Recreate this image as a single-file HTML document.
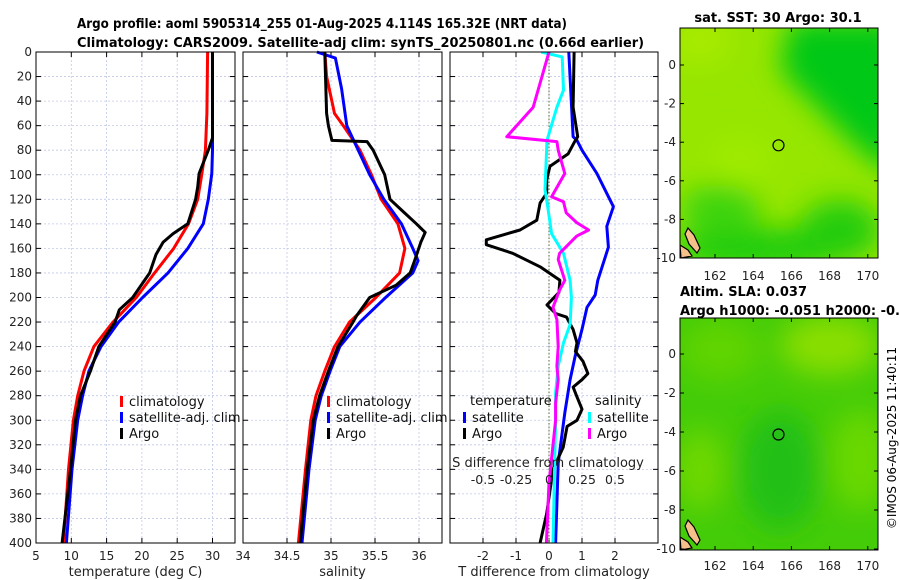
<!DOCTYPE html>
<html><head><meta charset="utf-8"><style>
html,body{margin:0;padding:0;background:#fff;}
svg{display:block;font-family:"DejaVu Sans","Liberation Sans",sans-serif;}
</style></head><body>
<svg id="chart" width="900" height="580" viewBox="0 0 900 580" xmlns="http://www.w3.org/2000/svg">
<defs>
<filter id="blur1" x="-50%" y="-50%" width="200%" height="200%"><feGaussianBlur stdDeviation="14"/></filter>
<clipPath id="clipMap1"><rect x="680" y="28" width="198" height="230"/></clipPath>
<clipPath id="clipMap2"><rect x="680" y="318" width="198" height="232"/></clipPath>
</defs>
<text x="77" y="28" font-weight="bold" font-size="13.5" textLength="490" lengthAdjust="spacingAndGlyphs">Argo profile: aoml 5905314_255 01-Aug-2025 4.114S 165.32E (NRT data)</text>
<text x="77" y="47" font-weight="bold" font-size="13.5" textLength="567" lengthAdjust="spacingAndGlyphs">Climatology: CARS2009. Satellite-adj clim: synTS_20250801.nc (0.66d earlier)</text>

<!-- Map 1 -->
<g>
<text x="778" y="22" font-weight="bold" font-size="13" text-anchor="middle">sat. SST: 30 Argo: 30.1</text>
<g clip-path="url(#clipMap1)">
<rect x="680" y="28" width="198" height="230" fill="#96e600"/>
<g filter="url(#blur1)">
<polygon points="790,20 900,20 900,180 860,150 820,110 780,70" fill="#00c814"/>
<ellipse cx="760" cy="250" rx="90" ry="22" fill="#1ccc10"/>
<ellipse cx="720" cy="210" rx="40" ry="25" fill="#3cd40a"/>
<ellipse cx="700" cy="40" rx="30" ry="25" fill="#a8ea00"/>
<ellipse cx="740" cy="160" rx="30" ry="20" fill="#a0ec00"/>
<ellipse cx="840" cy="230" rx="40" ry="30" fill="#22cc10"/>
</g>
<path d="M688,228 L694,235 L700,248 L697,253 L689,244 L685,234 Z" fill="#f5c08a" stroke="#000" stroke-width="1.2"/>
<path d="M680,245 L688,250 L692,256 L681,258 Z" fill="#f5c08a" stroke="#000" stroke-width="1.2"/>
<circle cx="778.5" cy="145.3" r="5.5" fill="none" stroke="#000" stroke-width="1.2"/>
</g>
<rect x="680" y="28" width="198" height="230" fill="none" stroke="#000" stroke-width="1"/>
</g>

<!-- Map 2 -->
<g>
<text x="680" y="296" font-weight="bold" font-size="13">Altim. SLA: 0.037</text>
<text x="680" y="315" font-weight="bold" font-size="13">Argo h1000: -0.051 h2000: -0.067</text>
<g clip-path="url(#clipMap2)">
<rect x="680" y="318" width="198" height="232" fill="#44cc08"/>
<g filter="url(#blur1)">
<ellipse cx="830" cy="345" rx="50" ry="30" fill="#8ade00"/>
<ellipse cx="720" cy="350" rx="40" ry="30" fill="#60d404"/>
<ellipse cx="780" cy="470" rx="40" ry="60" fill="#20c012"/>
<ellipse cx="860" cy="460" rx="30" ry="50" fill="#6ad804"/>
<ellipse cx="700" cy="470" rx="25" ry="40" fill="#70d800"/>
</g>
<path d="M688,520 L694,527 L700,540 L697,545 L689,536 L685,526 Z" fill="#f5c08a" stroke="#000" stroke-width="1.2"/>
<path d="M680,537 L688,542 L692,548 L681,550 Z" fill="#f5c08a" stroke="#000" stroke-width="1.2"/>
<circle cx="778.5" cy="434.5" r="5.5" fill="none" stroke="#000" stroke-width="1.2"/>
</g>
<rect x="680" y="318" width="198" height="232" fill="none" stroke="#000" stroke-width="1"/>
</g>
<text transform="translate(896,438) rotate(-90)" font-size="12" text-anchor="middle">©IMOS 06-Aug-2025 11:40:11</text>
<g id="dyn"></g>
</svg>
<script>
// ---------- data ----------
const depthTicks = [0,20,40,60,80,100,120,140,160,180,200,220,240,260,280,300,320,340,360,380,400];
const tempTicks = [5,10,15,20,25,30,35];
const salTicks = [34,34.5,35,35.5,36];
const tdiffTicks = [-2,-1,0,1,2];
const sdiffTicks = [-0.5,-0.25,0,0.25,0.5];
const sdiffLabels = ["-0.5","-0.25","0","0.25","0.5"];
const lonTicks = [162,164,166,168,170];
const latTicks = [0,-2,-4,-6,-8,-10];

const tClimDepth = [0,50,80,99,120,140,160,180,200,220,240,260,280,300,340,400];
const tClimVal   = [29.3,29.2,29.0,28.5,27.9,26.6,24.5,21.8,19.2,15.9,13.2,11.8,10.9,10.3,9.6,8.9];
const tSatDepth = [0,60,80,99,120,140,160,180,200,220,240,260,280,300,340,400];
const tSatVal   = [30.0,30.0,30.0,29.9,29.4,28.7,26.5,23.7,20.1,16.7,14.2,12.5,11.6,10.9,10.1,9.3];
const tArgoDepth = [0,70,80,99,110,120,140,148,155,165,180,200,210,220,240,260,280,300,340,400];
const tArgoVal   = [30.0,30.0,29.4,28.1,27.9,27.6,26.5,24.4,23.0,22.0,21.1,18.7,16.8,16.2,13.9,12.7,11.3,10.6,9.9,8.7];

const sClimDepth = [0,20,50,60,80,100,120,140,160,180,200,220,240,260,280,300,340,400];
const sClimVal   = [34.93,34.95,35.04,35.14,35.33,35.46,35.57,35.76,35.84,35.78,35.51,35.21,35.04,34.93,34.83,34.77,34.71,34.63];
const sSatDepth = [0,5,30,60,100,120,140,160,170,180,200,220,240,260,280,300,340,400];
const sSatVal   = [34.84,35.05,35.12,35.18,35.44,35.6,35.8,35.93,35.99,35.93,35.62,35.33,35.1,34.99,34.89,34.82,34.75,34.67];
const sArgoDepth = [0,50,60,72,73,80,100,120,130,140,147,155,170,180,190,200,215,220,240,260,280,300,340,400];
const sArgoVal   = [34.93,34.95,34.97,35.01,35.41,35.48,35.61,35.67,35.82,35.97,36.07,36.02,35.95,35.9,35.74,35.44,35.29,35.25,35.08,34.97,34.87,34.8,34.73,34.65];

const dTSatDepth = [0,69,72,80,99,126,142,159,186,198,208,226,248,267,294,335,400];
const dTSatVal   = [0.6,0.73,0.85,1.0,1.45,1.95,1.75,1.8,1.48,1.4,1.15,1.0,0.79,0.64,0.48,0.28,0.2];
const dTArgoDepth = [0,45,69,73,83,93,104,115,123,137,145,153,157,164,175,186,196,206,213,216,226,237,244,252,262,267,273,281,291,300,305,322,340,376,400];
const dTArgoVal   = [0.76,0.73,0.87,0.78,0.58,0.03,-0.07,-0.07,-0.27,-0.37,-0.88,-1.9,-1.9,-1.1,-0.27,0.33,0.3,-0.06,0.2,0.53,0.73,0.85,0.8,1.03,1.18,1.0,0.73,0.85,1.0,0.85,0.55,0.43,0.12,-0.07,-0.27];
const dSSatDepth = [0,4,31,45,72,112,126,148,164,186,200,222,237,256,278,300,400];
const dSSatVal   = [-0.06,0.1,0.11,0.06,-0.015,-0.03,-0.01,0.02,0.11,0.16,0.17,0.16,0.11,0.07,0.05,0.05,0.03];
const dSArgoDepth = [0,45,69,73,80,99,118,122,131,139,145,150,164,169,186,194,208,218,240,256,267,286,300,351,400];
const dSArgoVal   = [0.0,-0.12,-0.32,0.06,0.07,0.12,0.02,0.11,0.13,0.21,0.3,0.21,0.08,0.07,0.12,0.08,0.03,0.06,0.07,0.06,0.07,0.05,0.05,0.0,-0.02];

// ---------- axes ----------
const Y0 = 52, Y1 = 543;
const yD = d => Y0 + d * (Y1 - Y0) / 400;
const xT = t => 36 + (t - 5) * 7.06;
const xS = s => 243 + (s - 34) * 88;
const xDT = t => 549 + t * 33;
const xDS = s => 549 + s * 132;
const lonX = lon => 715 + (lon - 162) * 19.1;
const latY1 = lat => 65 - lat * 19.3;
const latY2 = lat => 354 - lat * 19.5;

const NS = "http://www.w3.org/2000/svg";
const root = document.getElementById('dyn');
function mk(tag, attrs, parent, text){
  const e = document.createElementNS(NS, tag);
  for (const k in attrs) e.setAttribute(k, attrs[k]);
  if (text !== undefined) e.textContent = text;
  (parent || root).appendChild(e);
  return e;
}

function panel(name, x0, x1, xticks, xf, xlabel, showY){
  const g = mk('g', {});
  
  
  for (const d of depthTicks){
    mk('line',{x1:x0,x2:x1,y1:yD(d),y2:yD(d),stroke:'#c0c8e8','stroke-width':0.8,'stroke-dasharray':'2,2'},g);
  }
  xticks.forEach(t=>{
    const x = xf(t);
    if (x > x0+1 && x < x1-1) mk('line',{x1:x,x2:x,y1:Y0,y2:Y1,stroke:'#c0c8e8','stroke-width':0.8,'stroke-dasharray':'2,2'},g);
  });
  for (const d of depthTicks){
    mk('line',{x1:x0,x2:x0+5,y1:yD(d),y2:yD(d),stroke:'#000'},g);
    mk('line',{x1:x1,x2:x1-5,y1:yD(d),y2:yD(d),stroke:'#000'},g);
    if (showY){
      const lab = mk('text',{x:x0-4,y:yD(d)+4,'font-size':12,'text-anchor':'end',fill:'#222'},g,String(d));
      
      
    }
  }
  const ax = mk('g',{},g);
  
  
  xticks.forEach(t=>{
    const x = xf(t);
    if (x < x0-1 || x > x1+1) return;
    mk('line',{x1:x,x2:x,y1:Y1,y2:Y1-5,stroke:'#000'},ax);
    mk('line',{x1:x,x2:x,y1:Y0,y2:Y0+5,stroke:'#000'},ax);
    const lab = mk('text',{x:x,y:Y1+17,'font-size':12,'text-anchor':'middle',fill:'#222'},ax,String(t));
    
    
  });
  const xl = mk('text',{x:(x0+x1)/2,y:Y1+33,'font-size':13,'text-anchor':'middle',fill:'#222'},g,xlabel);
  
  
  return g;
}

function series(name, depths, vals, xf, color, g, clip){
  let d = '';
  depths.forEach((dep,i)=>{ d += (i?'L':'M') + xf(vals[i]).toFixed(1) + ',' + yD(dep).toFixed(1); });
  const p = mk('path',{d:d,fill:'none',stroke:color,'stroke-width':3,'stroke-linejoin':'round'},g);
  if (clip) p.setAttribute('clip-path', clip);
  
  
}

function legendItem(name, x, y, color, label, g){
  const it = mk('g',{},g);
  
  
  mk('rect',{x:x,y:y-9,width:3,height:11,fill:color},it);
  mk('text',{x:x+9,y:y+1,'font-size':13,fill:'#111'},it,label);
}

const defs = document.querySelector('defs');
const cp = mk('clipPath',{id:'clipDiff'},defs);
mk('rect',{x:450,y:Y0,width:208,height:Y1-Y0},cp);

// Panel 1 temperature
const p1 = panel('temperature-panel', 36, 235, tempTicks, xT, 'temperature (deg C)', true);
series('temp-climatology-line', tClimDepth, tClimVal, xT, '#ff0000', p1);
series('temp-satellite-line', tSatDepth, tSatVal, xT, '#0000ff', p1);
series('temp-argo-line', tArgoDepth, tArgoVal, xT, '#000000', p1);
mk('rect',{x:36,y:Y0,width:199,height:Y1-Y0,fill:'none',stroke:'#000','stroke-width':1},p1);
const l1 = mk('g',{},p1);


legendItem('legend-climatology', 120, 405, '#ff0000', 'climatology', l1);
legendItem('legend-satellite-adj', 120, 421, '#0000ff', 'satellite-adj. clim', l1);
legendItem('legend-argo', 120, 437, '#000000', 'Argo', l1);

// Panel 2 salinity
const p2 = panel('salinity-panel', 243, 442, salTicks, xS, 'salinity', false);
series('sal-climatology-line', sClimDepth, sClimVal, xS, '#ff0000', p2);
series('sal-satellite-line', sSatDepth, sSatVal, xS, '#0000ff', p2);
series('sal-argo-line', sArgoDepth, sArgoVal, xS, '#000000', p2);
mk('rect',{x:243,y:Y0,width:199,height:Y1-Y0,fill:'none',stroke:'#000','stroke-width':1},p2);
const l2 = mk('g',{},p2);


legendItem('legend-climatology', 327, 405, '#ff0000', 'climatology', l2);
legendItem('legend-satellite-adj', 327, 421, '#0000ff', 'satellite-adj. clim', l2);
legendItem('legend-argo', 327, 437, '#000000', 'Argo', l2);

// Panel 3 differences
const p3 = panel('difference-panel', 450, 658, tdiffTicks, xDT, 'T difference from climatology', false);
mk('line',{x1:549,x2:549,y1:Y0,y2:Y1,stroke:'#556b2f','stroke-width':1,'stroke-dasharray':'1.5,2'},p3);
series('tdiff-satellite-line', dTSatDepth, dTSatVal, xDT, '#0000ff', p3, 'url(#clipDiff)');
series('tdiff-argo-line', dTArgoDepth, dTArgoVal, xDT, '#000000', p3, 'url(#clipDiff)');
series('sdiff-satellite-line', dSSatDepth, dSSatVal, xDS, '#00ffff', p3, 'url(#clipDiff)');
series('sdiff-argo-line', dSArgoDepth, dSArgoVal, xDS, '#ff00ff', p3, 'url(#clipDiff)');
mk('rect',{x:450,y:Y0,width:208,height:Y1-Y0,fill:'none',stroke:'#000','stroke-width':1},p3);
const sax = mk('g',{},p3);


const sTitle = mk('text',{x:548,y:467,'font-size':13,'text-anchor':'middle',fill:'#222'},sax,'S difference from climatology');


sdiffTicks.forEach((s,i)=>{
  const t = mk('text',{x:xDS(s),y:484,'font-size':12.5,'text-anchor':'middle',fill:'#222'},sax,sdiffLabels[i]);
  
  
});
const l3 = mk('g',{},p3);


mk('text',{x:470,y:405,'font-size':13,fill:'#111'},l3,'temperature');
legendItem('legend-t-satellite', 463, 421, '#0000ff', 'satellite', l3);
legendItem('legend-t-argo', 463, 437, '#000000', 'Argo', l3);
mk('text',{x:595,y:405,'font-size':13,fill:'#111'},l3,'salinity');
legendItem('legend-s-satellite', 588, 421, '#00ffff', 'satellite', l3);
legendItem('legend-s-argo', 588, 437, '#ff00ff', 'Argo', l3);

// Map axes
function mapAxes(name, yTop, yBot, latf, lonLabY){
  const g = mk('g',{});
  
  
  latTicks.forEach(l=>{
    const y = latf(l);
    mk('line',{x1:680,x2:684,y1:y,y2:y,stroke:'#000'},g);
    mk('line',{x1:878,x2:874,y1:y,y2:y,stroke:'#000'},g);
    const t = mk('text',{x:676,y:y+4,'font-size':12,'text-anchor':'end',fill:'#222'},g,String(l));
    
    
  });
  lonTicks.forEach(l=>{
    const x = lonX(l);
    mk('line',{x1:x,x2:x,y1:yBot,y2:yBot-4,stroke:'#000'},g);
    mk('line',{x1:x,x2:x,y1:yTop,y2:yTop+4,stroke:'#000'},g);
    const t = mk('text',{x:x,y:lonLabY,'font-size':12,'text-anchor':'middle',fill:'#222'},g,String(l));
    
    
  });
}
mapAxes('sst-map-axes', 28, 258, latY1, 280);
mapAxes('sla-map-axes', 318, 550, latY2, 570);
</script>
</body></html>
